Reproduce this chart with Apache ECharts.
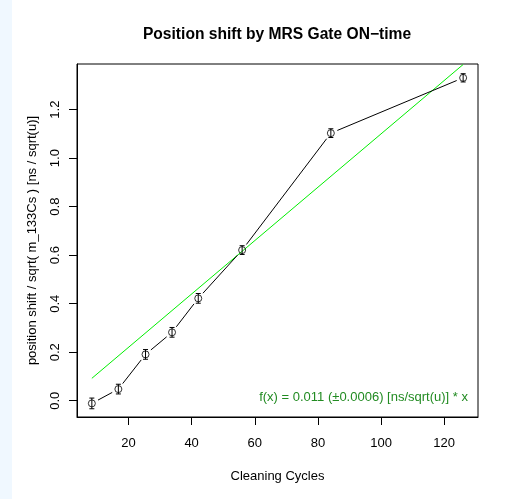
<!DOCTYPE html>
<html>
<head>
<meta charset="utf-8">
<script src="https://cdn.jsdelivr.net/npm/echarts@6/dist/echarts.min.js"></script>
<style>
html,body{margin:0;padding:0;background:#fff;}
#chart{width:506px;height:499px;}
</style>
</head>
<body>
<div id="chart"></div>
<script>
// Data
var cycles = [8.4, 16.8, 25.4, 33.8, 42.1, 56.0, 84.1, 126.0];
var shift  = [-0.011, 0.048, 0.191, 0.282, 0.422, 0.621, 1.103, 1.331];
var errs   = [0.022, 0.02, 0.02, 0.02, 0.02, 0.018, 0.018, 0.017];
var fitSlope = 0.011;
var xTicks = [20, 40, 60, 80, 100, 120];
var yTicks = [0.0, 0.2, 0.4, 0.6, 0.8, 1.0, 1.2];
var titleText = 'Position shift by MRS Gate ON\u2212time';
var xName = 'Cleaning Cycles';
var yName = 'position shift / sqrt( m_133Cs ) [ns / sqrt(u)]';
var fitLabel = 'f(x) = 0.011 (\u00b10.0006) [ns/sqrt(u)] * x';

var pts = cycles.map(function (c, i) { return [c, shift[i], errs[i]]; });
var segs = [];
for (var i = 0; i < cycles.length - 1; i++) {
  segs.push([cycles[i], shift[i], cycles[i + 1], shift[i + 1]]);
}
var xLo = Math.min.apply(null, cycles), xHi = Math.max.apply(null, cycles);
var fitData = [[xLo, fitSlope * xLo], [xHi, fitSlope * xHi]];

var FONT = 'Liberation Sans, Arial, Helvetica, sans-serif';
var chart = echarts.init(document.getElementById('chart'), null, {renderer: 'canvas'});
chart.setOption({
  animation: false,
  backgroundColor: '#ffffff',
  title: {
    text: titleText, left: 277, top: 27, textAlign: 'center', padding: 0,
    textStyle: {fontFamily: FONT, fontSize: 15.6, fontWeight: 'bold', color: '#000'}
  },
  graphic: [
    {type: 'rect', left: 0, top: 0, shape: {width: 12, height: 499}, style: {fill: '#f0f8ff'}, silent: true},
    {type: 'text', right: 38, top: 391, style: {text: fitLabel, fill: '#228b22', font: '13px ' + FONT, textAlign: 'right'}}
  ],
  grid: {left: 77, right: 28, top: 64, bottom: 82, show: true, borderColor: '#000', borderWidth: 1, backgroundColor: 'transparent'},
  xAxis: {
    type: 'value', min: 3.696, max: 130.704,
    name: xName, nameLocation: 'middle', nameGap: 53,
    nameTextStyle: {fontFamily: FONT, fontSize: 13, color: '#000'},
    axisLine: {show: true, onZero: false, lineStyle: {color: '#000'}},
    axisTick: {show: true, length: 8, inside: false, customValues: xTicks, lineStyle: {color: '#000'}},
    axisLabel: {customValues: xTicks, margin: 20, fontFamily: FONT, fontSize: 13, color: '#000'},
    splitLine: {show: false}
  },
  yAxis: {
    type: 'value', min: -0.067, max: 1.388,
    name: yName, nameLocation: 'middle', nameGap: 38, nameRotate: 90,
    nameTextStyle: {fontFamily: FONT, fontSize: 13, color: '#000'},
    axisLine: {show: true, onZero: false, lineStyle: {color: '#000'}},
    axisTick: {show: true, length: 8, inside: false, customValues: yTicks, lineStyle: {color: '#000'}},
    axisLabel: {customValues: yTicks, rotate: 90, margin: 15, fontFamily: FONT, fontSize: 13, color: '#000',
      formatter: function (v) { return v.toFixed(1); }},
    splitLine: {show: false}
  },
  series: [
    {
      type: 'line', data: fitData, showSymbol: false, symbol: 'none',
      lineStyle: {color: '#00ee00', width: 1}, z: 2
    },
    {
      type: 'custom', data: segs, z: 3,
      renderItem: function (params, api) {
        var p1 = api.coord([api.value(0), api.value(1)]);
        var p2 = api.coord([api.value(2), api.value(3)]);
        var dx = p2[0] - p1[0], dy = p2[1] - p1[1];
        var L = Math.sqrt(dx * dx + dy * dy);
        var g = 7;
        if (L <= 2 * g) return null;
        var ux = dx / L, uy = dy / L;
        return {type: 'line', shape: {x1: p1[0] + ux * g, y1: p1[1] + uy * g, x2: p2[0] - ux * g, y2: p2[1] - uy * g},
          style: {stroke: '#000', lineWidth: 1}};
      }
    },
    {
      type: 'custom', data: pts, z: 4,
      renderItem: function (params, api) {
        var x = api.value(0), y = api.value(1), e = api.value(2);
        var top = api.coord([x, y + e]);
        var bot = api.coord([x, y - e]);
        var w = 2.5;
        return {type: 'group', children: [
          {type: 'line', shape: {x1: top[0], y1: top[1], x2: bot[0], y2: bot[1]}, style: {stroke: '#000', lineWidth: 1}},
          {type: 'line', shape: {x1: top[0] - w, y1: top[1], x2: top[0] + w, y2: top[1]}, style: {stroke: '#000', lineWidth: 1}},
          {type: 'line', shape: {x1: bot[0] - w, y1: bot[1], x2: bot[0] + w, y2: bot[1]}, style: {stroke: '#000', lineWidth: 1}}
        ]};
      }
    },
    {
      type: 'scatter', data: pts.map(function (p) { return [p[0], p[1]]; }), z: 5,
      symbol: 'circle', symbolSize: 7,
      itemStyle: {color: 'rgba(0,0,0,0)', borderColor: '#000', borderWidth: 1}
    }
  ]
});
</script>
</body>
</html>
